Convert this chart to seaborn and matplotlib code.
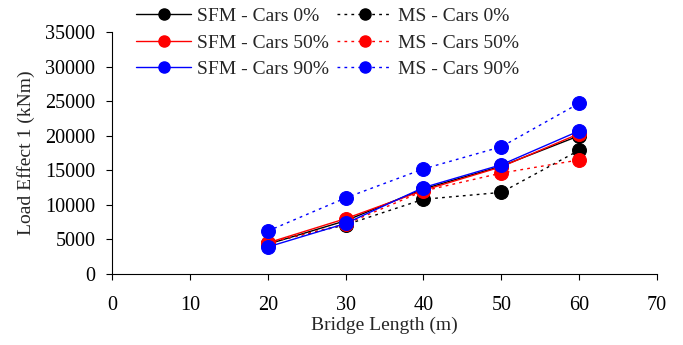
import matplotlib
matplotlib.use("Agg")
import matplotlib.pyplot as plt
import seaborn as sns
from matplotlib.lines import Line2D

# bridge lengths (m)
lengths = [20, 30, 40, 50, 60]

# load effect 1 (kNm)
sfm_0 = [4300, 7700, 12300, 15600, 20000]
sfm_50 = [4500, 8000, 12100, 15500, 20300]
sfm_90 = [3900, 7300, 12500, 15800, 20700]
ms_0 = [4500, 7100, 10800, 11800, 17900]
ms_50 = [4500, 7200, 12000, 14600, 16500]
ms_90 = [6200, 11000, 15200, 18400, 24700]

sns.set_style("ticks")
plt.rcParams['font.family'] = ['Liberation Serif', 'DejaVu Serif']

fig = plt.figure(figsize=(6.83, 3.45), dpi=100)
ax = fig.add_axes([0.164, 0.206, 0.798, 0.701])

dot = (0, (2, 3))
series = [
    ("SFM - Cars 0%", sfm_0, "black", "-"),
    ("MS - Cars 0%", ms_0, "black", dot),
    ("SFM - Cars 50%", sfm_50, "red", "-"),
    ("MS - Cars 50%", ms_50, "red", dot),
    ("SFM - Cars 90%", sfm_90, "blue", "-"),
    ("MS - Cars 90%", ms_90, "blue", dot),
]
for name, vals, col, ls in series:
    sns.lineplot(x=lengths, y=vals, ax=ax, color=col, linestyle=ls, linewidth=1,
                 marker="o", markersize=10, markeredgecolor=col, legend=False)

ax.set_xlim(0, 70)
ax.set_ylim(0, 35000)
ax.set_xticks(range(0, 71, 10))
ax.set_yticks(range(0, 35001, 5000))
ax.tick_params(labelsize=14.5, direction="out", length=4, width=0.8, colors="black")
ax.tick_params(axis="x", pad=12)
ax.tick_params(axis="y", pad=8)
ax.set_xlabel("Bridge Length (m)", fontsize=14, labelpad=1)
ax.set_ylabel("Load Effect 1 (kNm)", fontsize=14, labelpad=7)
for s in ["top", "right"]:
    ax.spines[s].set_visible(False)
for s in ["left", "bottom"]:
    ax.spines[s].set_linewidth(0.8)
    ax.spines[s].set_color("black")

handles = []
labels = []
for name, vals, col, ls in series[0::2] + series[1::2]:
    handles.append(Line2D([], [], color=col, linestyle=ls, linewidth=1, marker="o", markersize=8))
    labels.append(name)
fig.legend(handles, labels, ncol=2, loc="upper left", bbox_to_anchor=(0.174, 1.03),
           frameon=False, fontsize=14, handlelength=2.8, handletextpad=0.3,
           columnspacing=0.45, labelspacing=0.47)

fig.savefig("out.png", dpi=100)
